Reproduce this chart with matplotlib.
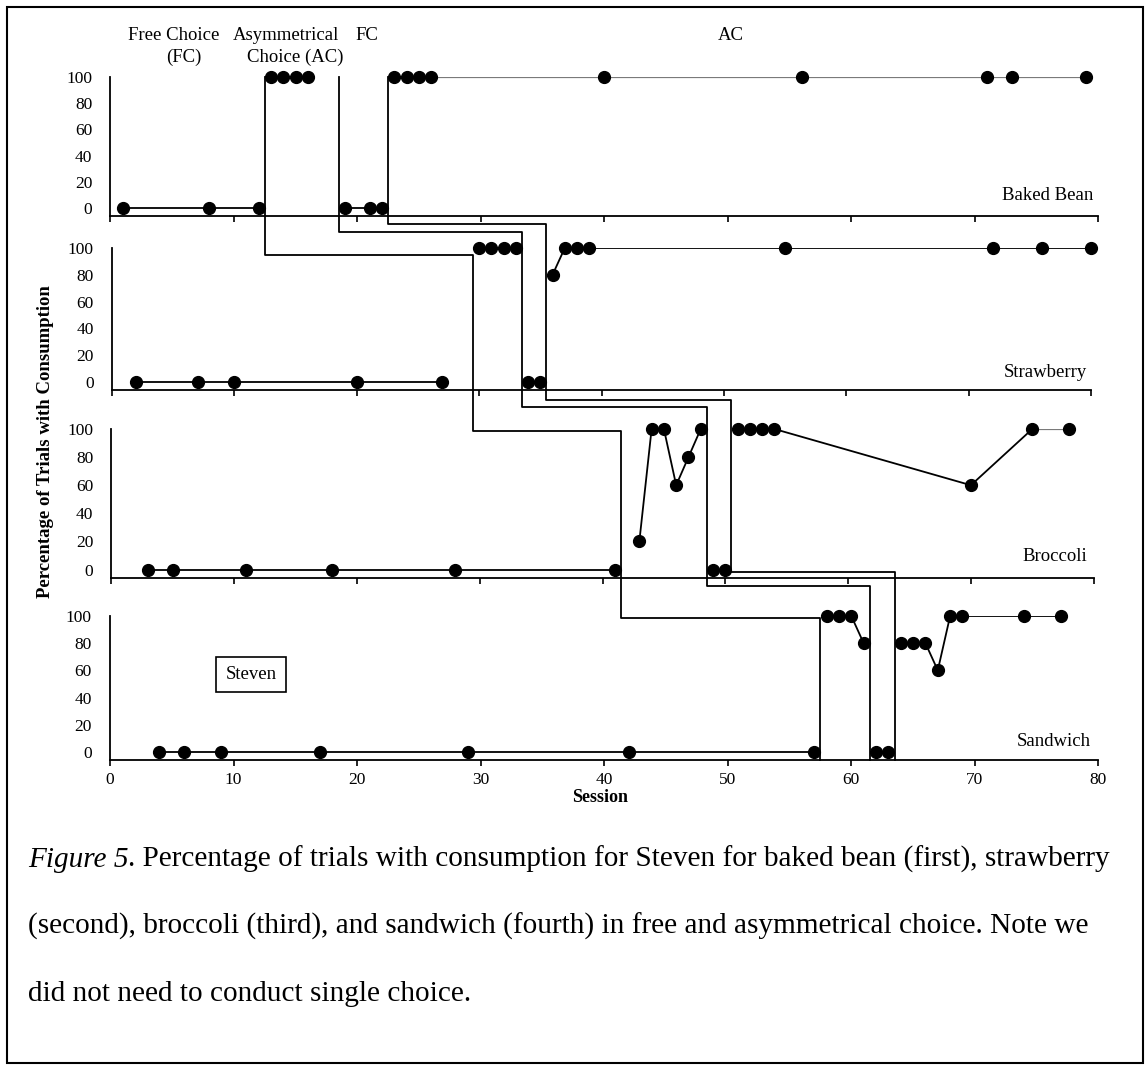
import matplotlib
matplotlib.use("Agg")
import matplotlib.pyplot as plt
from matplotlib.lines import Line2D
from matplotlib.patches import Rectangle

plt.rcParams['font.family'] = ['Liberation Serif', 'DejaVu Serif']

# data: session number and percentage of trials with consumption
bean_sessions = [1, 8, 12, 13, 14, 15, 16, 19, 21, 22, 23, 24, 25, 26, 40, 56, 71, 73, 79]
bean_pct = [0, 0, 0, 100, 100, 100, 100, 0, 0, 0, 100, 100, 100, 100, 100, 100, 100, 100, 100]

straw_sessions = [2, 7, 10, 20, 27, 30, 31, 32, 33, 34, 35, 36, 37, 38, 39, 55, 72, 76, 80]
straw_pct = [0, 0, 0, 0, 0, 100, 100, 100, 100, 0, 0, 80, 100, 100, 100, 100, 100, 100, 100]

broc_sessions = [3, 5, 11, 18, 28, 41, 43, 44, 45, 46, 47, 48, 49, 50, 51, 52, 53, 54, 70, 75, 78]
broc_pct = [0, 0, 0, 0, 0, 0, 20, 100, 100, 60, 80, 100, 0, 0, 100, 100, 100, 100, 60, 100, 100]

sand_sessions = [4, 6, 9, 17, 29, 42, 57, 58, 59, 60, 61, 62, 63, 64, 65, 66, 67, 68, 69, 74, 77]
sand_pct = [0, 0, 0, 0, 0, 0, 0, 100, 100, 100, 80, 0, 0, 80, 80, 80, 60, 100, 100, 100, 100]

foods = ["Baked Bean", "Strawberry", "Broccoli", "Sandwich"]
series = [(bean_sessions, bean_pct), (straw_sessions, straw_pct),
          (broc_sessions, broc_pct), (sand_sessions, sand_pct)]

# phase change lines: one x per panel (FC->AC, AC->FC, FC->AC)
phase_x = [[12.5, 29.5, 41.5, 57.5],
           [18.5, 33.5, 48.5, 61.5],
           [22.5, 35.5, 50.5, 63.5]]
# (panel, y) where each step turns horizontal
phase_levels = [[(1, 95), (2, 98.5), (3, 98.5)],
                [(0, -18.5), (1, -19), (2, -12)],
                [(0, -12.2), (1, -13.4), (2, -1.4)]]

W, H = 1148, 1070
fig = plt.figure(figsize=(W / 100, H / 100), dpi=100)


def fx(px):
    return px / W


def fy(py):
    return 1 - py / H


# pixel boxes of the four panels: left, right, top, bottom
boxes = [(110.3, 1098.4, 77, 216), (112, 1091, 248, 390),
         (111.3, 1093.7, 429, 578), (110, 1098.4, 616, 760)]
gray_from = [23, None, 75, None]
label_pos = [(79.6, 10), (79.7, 7), (79.5, 9), (79.4, 7.5)]

axes = []
for i, (x0, x1, yt, yb) in enumerate(boxes):
    ax = fig.add_axes([fx(x0), fy(yb), (x1 - x0) / W, (yb - yt) / H])
    ax.set_xlim(0, 80)
    ax.set_ylim(-6, 100)
    ax.patch.set_alpha(0)
    for s in ["top", "right"]:
        ax.spines[s].set_visible(False)
    for s in ["left", "bottom"]:
        ax.spines[s].set_linewidth(1.3)
    ax.set_xticks(range(0, 81, 10))
    ax.set_yticks(range(0, 101, 20))
    ax.tick_params(axis='y', length=0, pad=13, labelsize=12.5)
    ax.tick_params(axis='x', direction='out', length=4, width=1.2, pad=5, labelsize=12.5)
    if i < 3:
        ax.tick_params(axis='x', labelbottom=False)

    xs, ys = series[i]
    breaks = [p[i] for p in phase_x]
    # split into phases
    chunks = [[]]
    for k in range(len(xs)):
        if k > 0 and any(xs[k - 1] < b < xs[k] for b in breaks):
            chunks.append([])
        chunks[-1].append((xs[k], ys[k]))
    for ch in chunks:
        g = gray_from[i]
        if g is None:
            black, gray = ch, []
        else:
            black = [p for p in ch if p[0] <= g]
            gray = [p for p in ch if p[0] >= g]
        if len(black) > 1:
            ax.plot([p[0] for p in black], [p[1] for p in black], color='black', lw=1.3, zorder=2)
        if len(gray) > 1:
            ax.plot([p[0] for p in gray], [p[1] for p in gray], color='#7a7a7a', lw=1.6, zorder=2)
    ax.plot(xs, ys, 'o', color='black', ms=8.5, zorder=3, clip_on=False)

    lx, ly = label_pos[i]
    ax.text(lx, ly, foods[i], ha='right', va='center', fontsize=13.5)
    axes.append(ax)

axes[3].text(11.4, 57, "Steven", ha='center', va='center', fontsize=13.5,
             bbox=dict(boxstyle='square,pad=0.5', fc='white', ec='black', lw=1.2))

# phase change lines crossing the panels
inv = fig.transFigure.inverted()


def pt(xpanel, x, ypanel, y):
    dx = axes[xpanel].transData.transform((x, 0))[0]
    dy = axes[ypanel].transData.transform((0, y))[1]
    return inv.transform((dx, dy))


for xs_line, levels in zip(phase_x, phase_levels):
    stops = [(0, 100)] + levels + [(3, -6)]
    pts = []
    for i in range(4):
        pts.append(pt(i, xs_line[i], stops[i][0], stops[i][1]))
        pts.append(pt(i, xs_line[i], stops[i + 1][0], stops[i + 1][1]))
    fig.add_artist(Line2D([p[0] for p in pts], [p[1] for p in pts],
                          transform=fig.transFigure, color='black', lw=1.3))

# phase labels on top
fig.text(fx(174), fy(35), "Free Choice", ha='center', va='center', fontsize=13.5)
fig.text(fx(184), fy(57), "(FC)", ha='center', va='center', fontsize=13.5)
fig.text(fx(286), fy(35), "Asymmetrical", ha='center', va='center', fontsize=13.5)
fig.text(fx(295.5), fy(57), "Choice (AC)", ha='center', va='center', fontsize=13.5)
fig.text(fx(367), fy(35), "FC", ha='center', va='center', fontsize=13.5)
fig.text(fx(731), fy(35), "AC", ha='center', va='center', fontsize=13.5)

fig.text(fx(46), fy(442), "Percentage of Trials with Consumption", rotation=90,
         ha='center', va='center', fontsize=13.5, fontweight='bold')
fig.text(fx(600), fy(797), "Session", ha='center', va='center', fontsize=13, fontweight='bold')

# caption
cap_fs = 21.1
r = fig.canvas.get_renderer()
t1 = fig.text(fx(28), fy(867), "Figure 5", style='italic', fontsize=cap_fs, va='baseline')
bb = t1.get_window_extent(renderer=r)
fig.text(bb.x1 / W, fy(867), ". Percentage of trials with consumption for Steven for baked bean (first), strawberry",
         fontsize=cap_fs, va='baseline')
fig.text(fx(28), fy(934), "(second), broccoli (third), and sandwich (fourth) in free and asymmetrical choice. Note we",
         fontsize=cap_fs, va='baseline')
fig.text(fx(28), fy(1001), "did not need to conduct single choice.", fontsize=cap_fs, va='baseline')

fig.add_artist(Rectangle((fx(7), fy(1063)), (1143 - 7) / W, (1063 - 7) / H,
                         transform=fig.transFigure, fill=False, ec='black', lw=1.5))

fig.savefig("out.png", dpi=100)
